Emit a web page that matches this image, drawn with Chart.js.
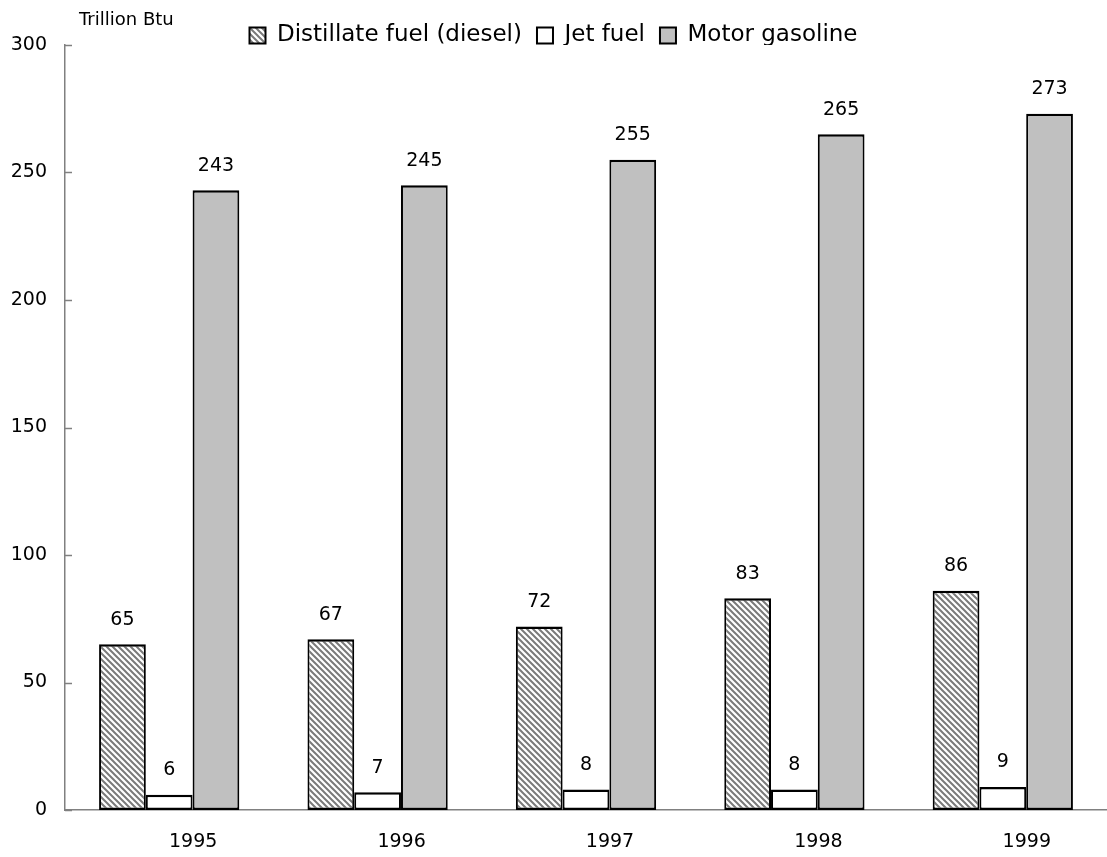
<!DOCTYPE html>
<html>
<head>
<meta charset="utf-8">
<script src="https://cdn.jsdelivr.net/npm/chart.js@4.4.0/dist/chart.umd.min.js"></script>
<style>
  html, body { margin: 0; padding: 0; background: #fff; overflow: hidden; }
  #wrap { width: 1107px; height: 857px; position: relative; }
</style>
</head>
<body>
<div id="wrap"><canvas id="grafica"></canvas></div>
<script>
// datos
const anios = ['1995', '1996', '1997', '1998', '1999'];
const diesel = [65, 67, 72, 83, 86];
const jetFuel = [6, 7, 8, 8, 9];
const gasolina = [243, 245, 255, 265, 273];
const nombresSeries = ['Distillate fuel (diesel)', 'Jet fuel', 'Motor gasoline'];
const marcasY = [0, 50, 100, 150, 200, 250, 300];
const unidad = 'Trillion Btu';

const fuente = '"DejaVu Sans", sans-serif';

// patron rayado para el diesel
function crearRayado() {
    const s = 6;
    const c = document.createElement('canvas');
    c.width = s; c.height = s;
    const g = c.getContext('2d');
    g.fillStyle = '#ffffff';
    g.fillRect(0, 0, s, s);
    g.strokeStyle = '#7a7a7a';
    g.lineWidth = 2;
    g.beginPath();
    g.moveTo(-1, -1); g.lineTo(s + 1, s + 1);
    g.moveTo(-1, s - 1); g.lineTo(1, s + 1);
    g.moveTo(s - 1, -1); g.lineTo(s + 1, 1);
    g.stroke();
    return g.createPattern(c, 'repeat');
}

// la leyenda ocupa menos alto para que el area empiece en y=45
const alturaLeyenda = {
    id: 'alturaLeyenda',
    afterInit(chart) {
        const ley = chart.legend;
        if (!ley) return;
        const fitOriginal = ley.fit.bind(ley);
        ley.fit = function() {
            fitOriginal();
            this.height = 36;
        };
    }
};

// marcas del eje y hacia dentro, titulo de unidades y etiquetas de valores
const extras = {
    id: 'extras',
    afterDraw(chart) {
        const ctx = chart.ctx;
        const y = chart.scales.y;
        ctx.save();
        ctx.strokeStyle = '#808080';
        ctx.lineWidth = 1.5;
        y.ticks.forEach((t, i) => {
            const py = Math.round(y.getPixelForTick(i)) + 0.5;
            ctx.beginPath();
            ctx.moveTo(y.right, py);
            ctx.lineTo(y.right + 7, py);
            ctx.stroke();
        });

        ctx.fillStyle = '#000';
        ctx.font = '18px ' + fuente;
        ctx.textAlign = 'left';
        ctx.textBaseline = 'alphabetic';
        ctx.fillText(unidad, chart.chartArea.left + 14, 25);

        ctx.font = '19px ' + fuente;
        ctx.textAlign = 'center';
        ctx.textBaseline = 'bottom';
        chart.data.datasets.forEach((ds, di) => {
            const meta = chart.getDatasetMeta(di);
            meta.data.forEach((bar, i) => {
                ctx.fillText(String(ds.data[i]), bar.x, bar.y - 15);
            });
        });
        ctx.restore();
    }
};

const borde = { top: 2.5, bottom: 2.5, left: 2, right: 2 };

const grafica = new Chart(document.getElementById('grafica'), {
    type: 'bar',
    data: {
        labels: anios,
        datasets: [
            { label: nombresSeries[0], data: diesel, backgroundColor: crearRayado(), borderColor: '#000', borderWidth: borde },
            { label: nombresSeries[1], data: jetFuel, backgroundColor: '#ffffff', borderColor: '#000', borderWidth: borde },
            { label: nombresSeries[2], data: gasolina, backgroundColor: '#c0c0c0', borderColor: '#000', borderWidth: borde }
        ]
    },
    options: {
        responsive: true,
        maintainAspectRatio: false,
        animation: false,
        layout: { padding: { top: 9, right: 0, left: 0, bottom: 0 } },
        datasets: {
            bar: { categoryPercentage: 0.673, barPercentage: 1, borderSkipped: false }
        },
        plugins: {
            tooltip: { enabled: false },
            legend: {
                position: 'top',
                labels: {
                    color: '#000',
                    boxWidth: 16,
                    boxHeight: 16,
                    padding: 15,
                    font: { family: fuente, size: 23 },
                    generateLabels: chart => Chart.defaults.plugins.legend.labels.generateLabels(chart).map(it => ({ ...it, lineWidth: 2 }))
                }
            }
        },
        scales: {
            x: {
                grid: { display: false },
                border: { display: true, color: '#808080', width: 1.5 },
                ticks: {
                    color: '#000',
                    labelOffset: 24,
                    padding: 13,
                    font: { family: fuente, size: 19 }
                },
                afterFit: s => { s.height = 47; }
            },
            y: {
                min: 0,
                max: 300,
                afterBuildTicks: s => { s.ticks = marcasY.map(v => ({ value: v })); },
                grid: { display: false },
                border: { display: true, color: '#808080', width: 1.5 },
                ticks: {
                    color: '#000',
                    padding: 10,
                    font: { family: fuente, size: 19 }
                },
                afterFit: s => { s.width = 65; }
            }
        }
    },
    plugins: [alturaLeyenda, extras]
});

console.log('area', JSON.stringify(grafica.chartArea));
</script>
</body>
</html>
